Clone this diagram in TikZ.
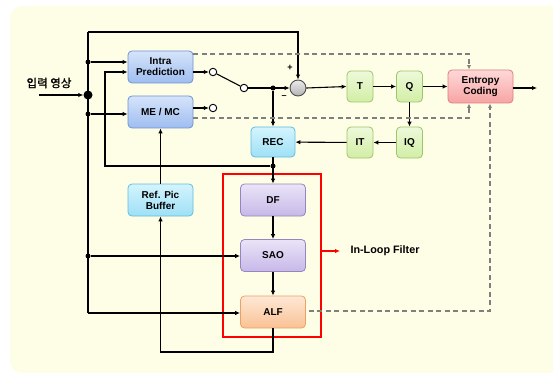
\documentclass[tikz,border=0pt]{standalone}
\usepackage{fontspec}
\setmainfont{Liberation Sans}
\newfontfamily\krfont{Noto Sans CJK KR}[FakeBold=1.2]
\usepackage{tikz}
\usetikzlibrary{arrows.meta, positioning, calc}

\definecolor{bgyel}{HTML}{FEFEE6}
\definecolor{blueT}{HTML}{D6E4FA}\definecolor{blueB}{HTML}{9EBDF0}\definecolor{blueD}{HTML}{6F92D2}
\definecolor{cyanT}{HTML}{D4F4FE}\definecolor{cyanB}{HTML}{9EE0F6}\definecolor{cyanD}{HTML}{5EBEE0}
\definecolor{grnT}{HTML}{EEF9DA}\definecolor{grnB}{HTML}{D2EEA6}\definecolor{grnD}{HTML}{9CC76A}
\definecolor{pinkT}{HTML}{FFD8D8}\definecolor{pinkB}{HTML}{F7A4A4}\definecolor{pinkD}{HTML}{DE7E7E}
\definecolor{purT}{HTML}{EAE4F8}\definecolor{purB}{HTML}{C7B8E8}\definecolor{purD}{HTML}{9686C0}
\definecolor{orgT}{HTML}{FEE8D6}\definecolor{orgB}{HTML}{F9C294}\definecolor{orgD}{HTML}{EFA064}
\definecolor{dgray}{HTML}{7F7F7F}

\begin{document}
\begin{tikzpicture}[x=1pt, y=-1pt,
    box/.style={draw, rounded corners=4pt, line width=0.8pt, font=\bfseries\fontsize{10}{11}\selectfont, align=center, minimum width=65pt, minimum height=32pt, inner sep=0pt},
    small/.style={box, minimum width=26pt, minimum height=31pt},
    arr/.style={-{Latex[length=5pt,width=4.5pt]}, line width=1.1pt},
    dsh/.style={dash pattern=on 5pt off 3.5pt, draw=dgray, line width=1.1pt},
    dsharr/.style={dsh, -{Latex[length=4.5pt,width=4pt]}},
    dot/.style={circle, fill, inner sep=0pt, minimum size=5pt},
    sw/.style={circle, draw, fill=white, inner sep=0pt, minimum size=7.5pt, line width=0.9pt},
]
    \useasboundingbox (0,0) rectangle (553,374);
    \fill[bgyel, rounded corners=12pt] (10,6) rectangle (580,373);

    % blocks
    \node[box, top color=blueT, bottom color=blueB, draw=blueD] (intra) at (160.5,67) {Intra\\Prediction};
    \node[box, top color=blueT, bottom color=blueB, draw=blueD] (memc) at (160.5,112) {ME / MC};
    \node[box, top color=cyanT, bottom color=cyanB, draw=cyanD] (refpic) at (160.5,200) {Ref. Pic\\Buffer};
    \node[box, top color=cyanT, bottom color=cyanB, draw=cyanD, minimum width=44pt, minimum height=30pt] (rec) at (273,142) {REC};
    \node[small, top color=grnT, bottom color=grnB, draw=grnD] (tr) at (360,86.5) {T};
    \node[small, top color=grnT, bottom color=grnB, draw=grnD] (qu) at (409.5,86.5) {Q};
    \node[small, top color=grnT, bottom color=grnB, draw=grnD] (it) at (360,142.5) {IT};
    \node[small, top color=grnT, bottom color=grnB, draw=grnD] (iq) at (409.5,142.5) {IQ};
    \node[box, top color=pinkT, bottom color=pinkB, draw=pinkD, minimum height=33pt] (ent) at (480.5,86.5) {Entropy\\Coding};
    \node[box, top color=purT, bottom color=purB, draw=purD] (df) at (273,200) {DF};
    \node[box, top color=purT, bottom color=purB, draw=purD] (sao) at (273,255.5) {SAO};
    \node[box, top color=orgT, bottom color=orgB, draw=orgD] (alf) at (273,312) {ALF};
    \node[circle, draw=black!70, line width=0.9pt, inner sep=0pt, minimum size=16pt, top color=white!92!black, bottom color=black!30] (sum) at (298,88) {};
    \node[font=\bfseries\fontsize{9}{10}\selectfont] (plus) at (290,68) {+};
    \node[font=\bfseries\fontsize{9}{10}\selectfont] (minus) at (284,97) {--};

    % in-loop filter frame
    \node[draw=red, line width=1.4pt, minimum width=98pt, minimum height=163pt, inner sep=0pt] (ilf) at (272,255.5) {};
    \node[font=\bfseries\fontsize{10.8}{12}\selectfont, anchor=west] (ilflabel) at (347,251) {In-Loop Filter};
    \draw[-{Latex[length=5pt,width=4.5pt]}, red, line width=1.1pt, shorten >=7pt] (ilf.east |- ilflabel) -- (ilflabel.west);

    % input and left trunk
    \node[font=\krfont\fontsize{11.5}{13}\selectfont] (inlabel) at (49,83) {입력 영상};
    \coordinate (in) at (39,95);
    \coordinate (jtop) at (88,32);
    \coordinate (jbot) at (88,313);
    \node[dot, minimum size=9pt] (jin) at (88,95) {};
    \node[dot] (j1) at (88,62) {};
    \node[dot] (j2) at (88,114) {};
    \node[dot] (j3) at (88,256) {};
    \draw[arr] (in) -- (jin);
    \draw[line width=1.1pt] (jtop) -- (jbot);
    \draw[arr] (jtop) -| (sum.north);
    \draw[arr] (j1) -- (j1 -| intra.west);
    \draw[arr] (j2) -- (j2 -| memc.west);
    \draw[arr] (j3) -- (j3 -| sao.west);
    \draw[arr] (jbot) -- (jbot -| alf.west);

    % mode switch
    \node[sw] (swa) at (213,72) {};
    \node[sw] (swb) at (244,88) {};
    \node[sw] (swc) at (213,108) {};
    \node[dot] (jsw) at (273,88) {};
    \draw[arr] (swa -| intra.east) -- (swa);
    \draw[arr] (swc -| memc.east) -- (swc);
    \draw[line width=1.1pt] (swa) -- (swb);
    \draw[arr] (swb) -- (sum.west);
    \draw[arr] (jsw) -- (rec.north);

    % forward path
    \draw[arr] (sum.east) -- (tr.west);
    \draw[arr] (tr) -- (qu);
    \draw[arr] (qu) -- (ent);
    \coordinate (out) at (537,88);
    \draw[arr] (ent.east |- out) -- (out);
    \draw[arr] (qu) -- (iq);
    \draw[arr] (iq) -- (it);
    \draw[arr] (it) -- (rec);

    % reconstruction and loop filter
    \node[dot] (jrec) at (273,166) {};
    \coordinate (fb) at (105,72);
    \draw[arr] (jrec) -| (fb) -- (fb -| intra.west);
    \draw[arr] (rec) -- (df);
    \draw[arr] (df) -- (sao);
    \draw[arr] (sao) -- (alf);
    \coordinate (jloop) at (273,352);
    \draw[arr] (alf.south) -- (jloop) -| (refpic.south);
    \draw[arr] (refpic) -- (memc);

    % side information
    \coordinate (dtop) at (469,54);
    \coordinate (dbot) at (469,118);
    \coordinate (dalf) at (490,311);
    \draw[dsharr] (dtop -| intra.east) -- (dtop) -- (dtop |- ent.north);
    \draw[dsharr] (dbot -| memc.east) -- (dbot) -- (dbot |- ent.south);
    \draw[dsharr] ([xshift=3pt]dalf -| alf.east) -- (dalf) -- (dalf |- ent.south);
\end{tikzpicture}
\end{document}
